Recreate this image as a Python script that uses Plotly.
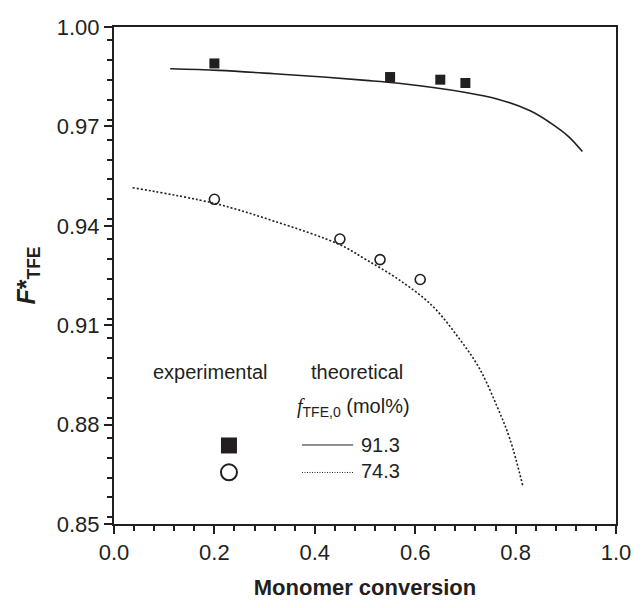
import plotly.graph_objects as go

# ---------------- data ----------------
exp_913_x = [0.20, 0.55, 0.65, 0.70]
exp_913_y = [0.9890, 0.9849, 0.9841, 0.9831]

exp_743_x = [0.20, 0.45, 0.53, 0.61]
exp_743_y = [0.9480, 0.9360, 0.9298, 0.9238]

theo_913_x = [0.112, 0.208, 0.319, 0.417, 0.502, 0.567, 0.698, 0.763, 0.829, 0.870, 0.905, 0.933]
theo_913_y = [0.9874, 0.9869, 0.9859, 0.9849, 0.9839, 0.9830, 0.9803, 0.9783, 0.9747, 0.9710, 0.9670, 0.9624]

theo_743_x = [0.037, 0.199, 0.319, 0.450, 0.502, 0.567, 0.633, 0.685, 0.727, 0.763, 0.789, 0.814]
theo_743_y = [0.9515, 0.9468, 0.9414, 0.9343, 0.9298, 0.9238, 0.9160, 0.9065, 0.8972, 0.8855, 0.8755, 0.8617]

x_ticks = [0.0, 0.2, 0.4, 0.6, 0.8, 1.0]
y_ticks = [0.85, 0.88, 0.91, 0.94, 0.97, 1.00]

legend_labels = ["91.3", "74.3"]

INK = "#231f20"
FONT = "Liberation Sans, Arial, sans-serif"

fig = go.Figure()

fig.add_trace(go.Scatter(x=theo_913_x, y=theo_913_y, mode="lines",
                         line=dict(color=INK, width=1.6, shape="spline", smoothing=1.0),
                         showlegend=False))
fig.add_trace(go.Scatter(x=theo_743_x, y=theo_743_y, mode="lines",
                         line=dict(color=INK, width=1.6, dash="2px,2px", shape="spline", smoothing=1.0),
                         showlegend=False))
fig.add_trace(go.Scatter(x=exp_913_x, y=exp_913_y, mode="markers",
                         marker=dict(symbol="square", size=10, color=INK),
                         showlegend=False))
fig.add_trace(go.Scatter(x=exp_743_x, y=exp_743_y, mode="markers",
                         marker=dict(symbol="circle-open", size=10, color=INK,
                                     line=dict(width=1.6, color=INK)),
                         showlegend=False))

axis_common = dict(
    showline=True, linecolor=INK, linewidth=2, mirror=True,
    ticks="outside", ticklen=8, tickwidth=2, tickcolor=INK,
    showgrid=False, zeroline=False,
    tickfont=dict(family=FONT, size=22, color=INK),
)

fig.update_xaxes(
    range=[0, 1], tickvals=x_ticks, tickformat=".1f",
    minor=dict(dtick=0.04, ticks="outside", ticklen=5, tickwidth=2, tickcolor=INK),
    title=dict(text="<b>Monomer conversion</b>",
               font=dict(family=FONT, size=22, color=INK), standoff=15),
    **axis_common,
)
fig.update_yaxes(
    range=[0.85, 1.0], tickvals=y_ticks, tickformat=".2f",
    minor=dict(dtick=0.006, ticks="outside", ticklen=5, tickwidth=2, tickcolor=INK),
    title=dict(text="<b><i>F</i>*<sub>TFE</sub></b>",
               font=dict(family=FONT, size=25, color=INK), standoff=14),
    **axis_common,
)

# --------- hand-made legend ---------
def ann(text, x, y, xanchor="left", size=20):
    fig.add_annotation(text=text, x=x, y=y, xref="paper", yref="paper",
                       xanchor=xanchor, yanchor="middle", showarrow=False,
                       font=dict(family=FONT, size=size, color=INK))

ann("experimental", 0.0745, 0.305)
ann("theoretical", 0.580, 0.305, xanchor="right")
ann('<span style="font-family:Liberation Serif, Times New Roman, serif"><i>f</i></span>'
    '<sub>TFE,0</sub> (mol%)', 0.361, 0.235)
ann(legend_labels[0], 0.488, 0.1585)
ann(legend_labels[1], 0.488, 0.1057)

# legend samples
fig.add_shape(type="rect", xref="paper", yref="paper", xsizemode="pixel", ysizemode="pixel",
              xanchor=0.229, yanchor=0.158, x0=-8, x1=8, y0=-8, y1=8,
              fillcolor=INK, line=dict(width=0))
fig.add_shape(type="circle", xref="paper", yref="paper", xsizemode="pixel", ysizemode="pixel",
              xanchor=0.229, yanchor=0.104, x0=-8, x1=8, y0=-8, y1=8,
              fillcolor="white", line=dict(width=2, color=INK))
fig.add_shape(type="line", xref="paper", yref="paper",
              x0=0.3745, x1=0.4765, y0=0.159, y1=0.159,
              line=dict(color=INK, width=1))
fig.add_shape(type="line", xref="paper", yref="paper",
              x0=0.3745, x1=0.4765, y0=0.1037, y1=0.1037,
              line=dict(color=INK, width=1, dash="1px,1.5px"))

fig.update_layout(
    width=643, height=608,
    margin=dict(l=114, r=19, t=27, b=70),
    paper_bgcolor="white", plot_bgcolor="white",
    font=dict(family=FONT, color=INK),
    showlegend=False,
)

fig.write_html("out.html",
               config={"displayModeBar": False},
               post_script="document.body.style.margin='0';document.body.style.overflow='hidden';")
